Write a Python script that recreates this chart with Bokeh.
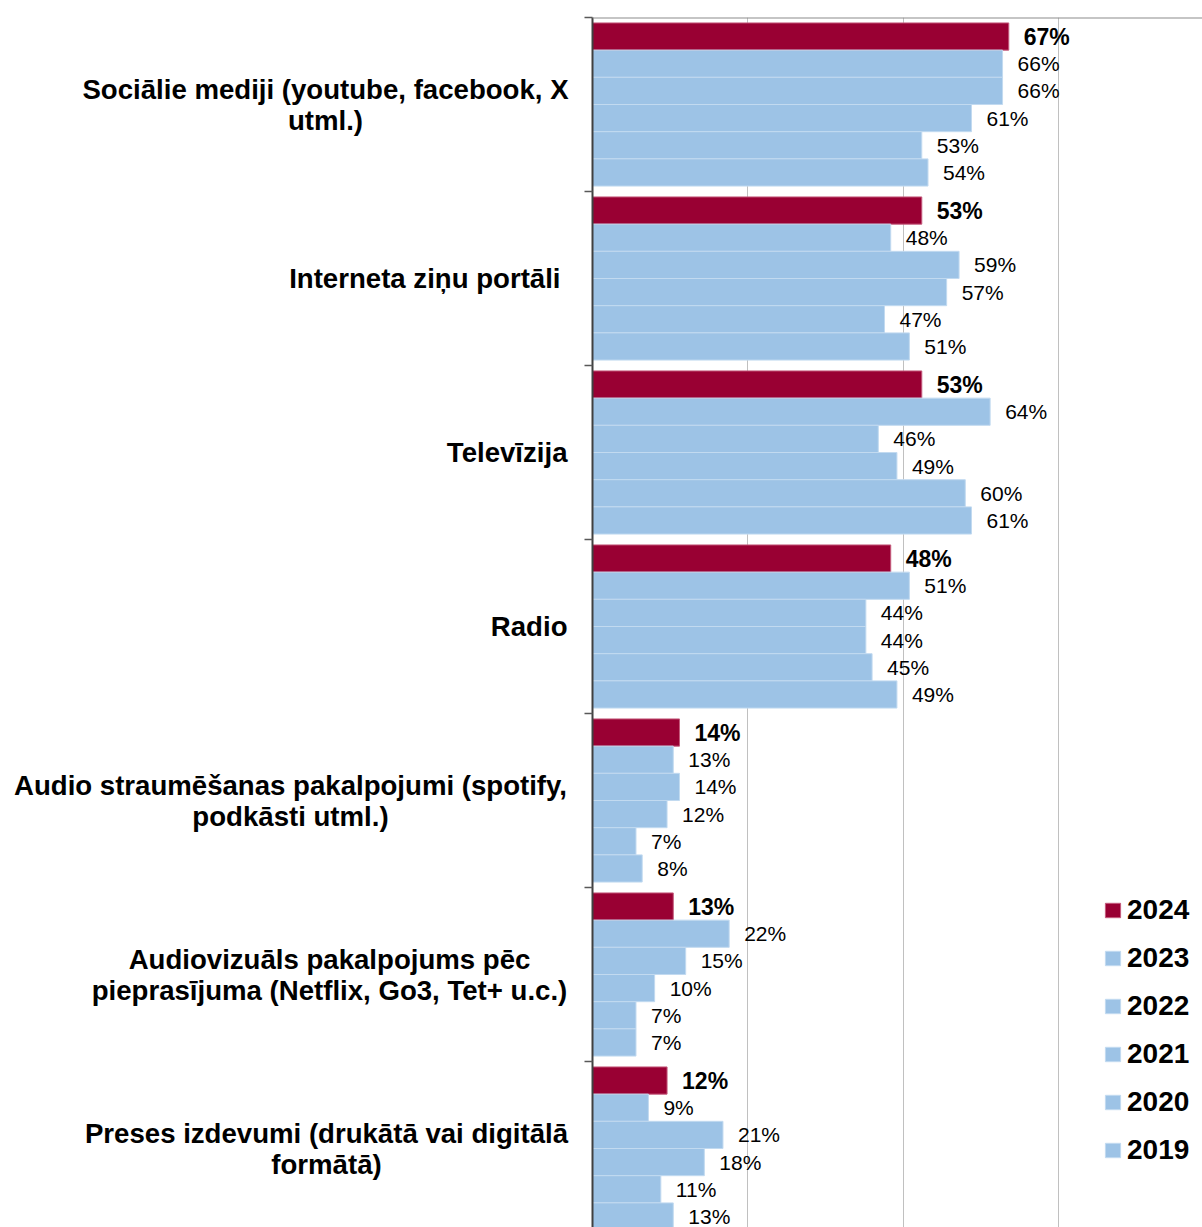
from bokeh.plotting import figure
from bokeh.layouts import row
from bokeh.models import Range1d, FixedTicker, Span, Legend, LegendItem, ColumnDataSource
from bokeh.embed import file_html
from bokeh.resources import INLINE
from bokeh.core.properties import value

# ---- data ----
categories = [
    "Sociālie mediji (youtube, facebook, X\nutml.)",
    "Interneta ziņu portāli",
    "Televīzija",
    "Radio",
    "Audio straumēšanas pakalpojumi (spotify,\npodkāsti utml.)",
    "Audiovizuāls pakalpojums pēc\npieprasījuma (Netflix, Go3, Tet+ u.c.)",
    "Preses izdevumi (drukātā vai digitālā\nformātā)",
]
years = ["2024", "2023", "2022", "2021", "2020", "2019"]
v2024 = [67, 53, 53, 48, 14, 13, 12]
v2023 = [66, 48, 64, 51, 13, 22, 9]
v2022 = [66, 59, 46, 44, 14, 15, 21]
v2021 = [61, 57, 49, 44, 12, 10, 18]
v2020 = [53, 47, 60, 45, 7, 7, 11]
v2019 = [54, 51, 61, 49, 8, 7, 13]
series = [v2024, v2023, v2022, v2021, v2020, v2019]

# ---- layout / style ----
TOTAL_W, H = 1202, 1227
AXIS_X = 592          # page x of the value axis
TOP = 17
AX_BORDER = 20        # room for the axis ticks inside the chart figure
LEFT_W = AXIS_X - AX_BORDER
MAIN_W = TOTAL_W - LEFT_W
FRAME_W = TOTAL_W - AXIS_X
FRAME_H = H - TOP
PX_PER_PCT = 6.213
GROUP = 6.4           # slots per group (6 bars + padding)
PAD = 0.2
PX_PER_SLOT = 174 / GROUP
RED = "#990033"
BLUE = "#9DC3E6"
FONT = "Liberation Sans"

x_end = FRAME_W / PX_PER_PCT
y_end = FRAME_H / PX_PER_SLOT
yr = Range1d(y_end, 0)

p = figure(width=MAIN_W, height=H, output_backend="svg", toolbar_location=None,
           x_range=Range1d(0, x_end), y_range=yr,
           x_axis_location=None, min_border_left=AX_BORDER, min_border_right=0,
           min_border_top=TOP, min_border_bottom=0)
p.outline_line_color = None
p.ygrid.visible = False
p.xgrid.ticker = FixedTicker(ticks=[25, 50, 75, 100])
p.xgrid.grid_line_color = "#c0c0c0"
p.xgrid.grid_line_width = 1

ticks = [g * GROUP for g in range(len(categories) + 1)]
ax = p.yaxis[0]
ax.ticker = FixedTicker(ticks=ticks)
ax.minor_tick_line_color = None
ax.major_tick_in = 0
ax.major_tick_out = 8
ax.major_tick_line_color = "#595959"
ax.major_tick_line_width = 1.5
ax.axis_line_color = "#404040"
ax.axis_line_width = 2
ax.major_label_standoff = 0
ax.major_label_overrides = {t: "" for t in ticks}

p.add_layout(Span(location=0, dimension="width", line_color="#8c8c8c", line_width=2))

items = []
for j, (yr_lab, vals) in enumerate(zip(years, series)):
    ys = [g * GROUP + PAD + j + 0.5 for g in range(len(categories))]
    src = ColumnDataSource(dict(y=ys, v=vals, lab=[f"{v}%" for v in vals]))
    is_main = j == 0
    r = p.hbar(y="y", right="v", left=0, height=1.0, source=src,
               fill_color=RED if is_main else BLUE,
               line_color="#c45a7c" if is_main else "#c2daf0", line_width=1)
    p.text(x="v", y="y", text="lab", source=src, x_offset=15,
           text_baseline="middle", text_align="left",
           text_font=value(FONT), text_font_size="23px" if is_main else "21px",
           text_font_style="bold" if is_main else "normal", text_color="black")
    items.append(LegendItem(label=yr_lab, renderers=[r]))

legend = Legend(items=items, location=(511, 61), orientation="vertical",
                glyph_width=19, glyph_height=18, label_standoff=5, spacing=16,
                padding=0, margin=0, border_line_color=None, background_fill_alpha=0,
                label_text_font=FONT, label_text_font_size="28px",
                label_text_font_style="bold", label_text_color="black")
p.add_layout(legend)

# ---- category label panel ----
lp = figure(width=LEFT_W, height=H, output_backend="svg", toolbar_location=None,
            x_range=Range1d(0, LEFT_W), y_range=yr,
            x_axis_location=None, y_axis_location=None,
            min_border_left=0, min_border_right=0, min_border_top=TOP, min_border_bottom=0)
lp.outline_line_color = None
lp.grid.visible = False
# anchor x (page px) and alignment of each category label
lab_x = [325, 560, 567, 567, 290, 329, 326]
lab_align = ["center", "right", "right", "right", "center", "center", "center"]
lsrc = ColumnDataSource(dict(x=lab_x, y=[g * GROUP + GROUP / 2 for g in range(len(categories))],
                             t=categories, a=lab_align))
lp.text(x="x", y="y", text="t", text_align="a", source=lsrc, text_baseline="middle",
        text_font=value(FONT), text_font_size="27.6px", text_font_style="bold",
        text_color="black", text_line_height=1.0)

layout = row(lp, p, spacing=0)
open("out.html", "w").write(file_html(layout, INLINE))
